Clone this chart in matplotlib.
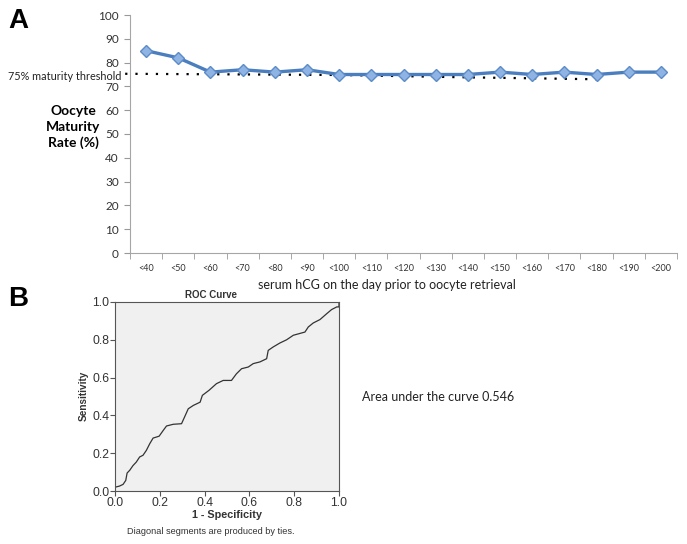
import matplotlib
matplotlib.use('Agg')
import matplotlib.pyplot as plt

# panel A data
categories = ['<40', '<50', '<60', '<70', '<80', '<90', '<100', '<110', '<120',
              '<130', '<140', '<150', '<160', '<170', '<180', '<190', '<200']
maturity = [85, 82, 76, 77, 76, 77, 75, 75, 75, 75, 75, 76, 75, 76, 75, 76, 76]
threshold_x = [-0.65, 6, 10, 14]
threshold_y = [75.3, 74.8, 73.8, 73.0]
y_ticks = list(range(0, 101, 10))

# panel B data (ROC curve)
fpr = [0, 0, 0.02, 0.036, 0.048, 0.054, 0.066, 0.08, 0.095, 0.11, 0.125, 0.14,
       0.155, 0.17, 0.197, 0.215, 0.23, 0.26, 0.297, 0.31, 0.327, 0.35, 0.38,
       0.39, 0.42, 0.453, 0.483, 0.52, 0.542, 0.565, 0.595, 0.617, 0.647,
       0.677, 0.684, 0.706, 0.736, 0.766, 0.796, 0.848, 0.863, 0.885, 0.915,
       0.945, 0.967, 0.99, 1.0, 1.0]
tpr = [0, 0.02, 0.026, 0.035, 0.056, 0.095, 0.11, 0.134, 0.153, 0.18, 0.189,
       0.215, 0.25, 0.28, 0.29, 0.32, 0.344, 0.353, 0.356, 0.39, 0.435, 0.453,
       0.47, 0.506, 0.533, 0.568, 0.585, 0.585, 0.62, 0.647, 0.656, 0.674,
       0.683, 0.70, 0.744, 0.762, 0.783, 0.80, 0.824, 0.841, 0.868, 0.889,
       0.907, 0.938, 0.96, 0.974, 0.974, 1.0]
roc_ticks = [0.0, 0.2, 0.4, 0.6, 0.8, 1.0]
auc = 0.546

W, H = 687, 544
fig = plt.figure(figsize=(W / 100, H / 100), dpi=100)


def fx(x):
    return x / W


def fy(y):
    return 1 - y / H


calibri = ['Lato', 'DejaVu Sans']
arial = ['Liberation Sans', 'DejaVu Sans']

# ---------- A ----------
ax = fig.add_axes([fx(130), fy(253), fx(677) - fx(130), fy(15) - fy(253)])
xs = list(range(len(categories)))
ax.plot(threshold_x, threshold_y, color='black', lw=1.6, ls=(0, (1, 3.6)),
        clip_on=False, zorder=2)
ax.plot(xs, maturity, color='#4a7ebf', lw=2.4, marker='D', ms=6.5,
        mfc='#8fb4e3', mec='#5b8bc9', mew=1, zorder=3)
ax.set_xlim(-0.5, len(categories) - 0.5)
ax.set_ylim(0, 100)
ax.set_yticks(y_ticks)
ax.set_yticklabels([str(t) for t in y_ticks], family=calibri, fontsize=8.5,
                   color='#333333')
ax.set_xticks(xs)
ax.set_xticklabels(categories, family=calibri, fontsize=6.5, color='#333333')
ax.set_xticks([i + 0.5 for i in range(-1, len(categories))], minor=True)
ax.tick_params(axis='x', which='major', length=0, pad=8)
ax.tick_params(axis='x', which='minor', length=4, color='#999999')
ax.tick_params(axis='y', length=4, color='#999999', pad=4)
for s in ['top', 'right']:
    ax.spines[s].set_visible(False)
for s in ['left', 'bottom']:
    ax.spines[s].set_color('#a6a6a6')
    ax.spines[s].set_linewidth(0.8)

fig.text(fx(8), fy(21.5), 'A', fontsize=20, fontweight='bold', family=arial,
         va='center', ha='left')
fig.text(fx(121), fy(76), '75% maturity threshold', family=calibri,
         fontsize=7.8, ha='right', va='center', color='#222222')
fig.text(fx(73), fy(127), 'Oocyte\nMaturity\nRate (%)', family=calibri,
         fontsize=10, fontweight='bold', ha='center', va='center',
         linespacing=1.35)
fig.text(fx(387), fy(285), 'serum hCG on the day prior to oocyte retrieval',
         family=calibri, fontsize=9, ha='center', va='center',
         color='#222222')

# ---------- B ----------
bx = fig.add_axes([fx(115), fy(491), fx(339) - fx(115), fy(302) - fy(491)])
bx.set_facecolor('#f0f0f0')
bx.plot(fpr, tpr, color='#333333', lw=0.9)
bx.set_xlim(0, 1)
bx.set_ylim(0, 1)
bx.set_xticks(roc_ticks)
bx.set_yticks(roc_ticks)
bx.set_xticklabels([f'{t:.1f}' for t in roc_ticks], family=arial,
                   fontsize=8.8, color='#333333')
bx.set_yticklabels([f'{t:.1f}' for t in roc_ticks], family=arial,
                   fontsize=8.8, color='#333333')
bx.tick_params(length=3.5, width=0.8, color='#555555', pad=0.5)
for s in bx.spines.values():
    s.set_color('#555555')
    s.set_linewidth(0.8)

fig.text(fx(8), fy(298.5), 'B', fontsize=20, fontweight='bold', family=arial,
         va='center', ha='left')
fig.text(fx(211), fy(295), 'ROC Curve', family=arial, fontsize=7,
         fontweight='bold', ha='center', va='center', color='#333333')
fig.text(fx(84), fy(396), 'Sensitivity', family=arial, fontsize=7.2,
         fontweight='bold', rotation=90, ha='center', va='center',
         color='#333333')
fig.text(fx(227), fy(514.5), '1 - Specificity', family=arial, fontsize=7.8,
         fontweight='bold', ha='center', va='center', color='#333333')
fig.text(fx(211), fy(532), 'Diagonal segments are produced by ties.',
         family=arial, fontsize=6.6, ha='center', va='center',
         color='#333333')
fig.text(fx(362), fy(397), f'Area under the curve {auc}', family=calibri,
         fontsize=9, ha='left', va='center', color='#222222')

fig.savefig('out.png', dpi=100)
